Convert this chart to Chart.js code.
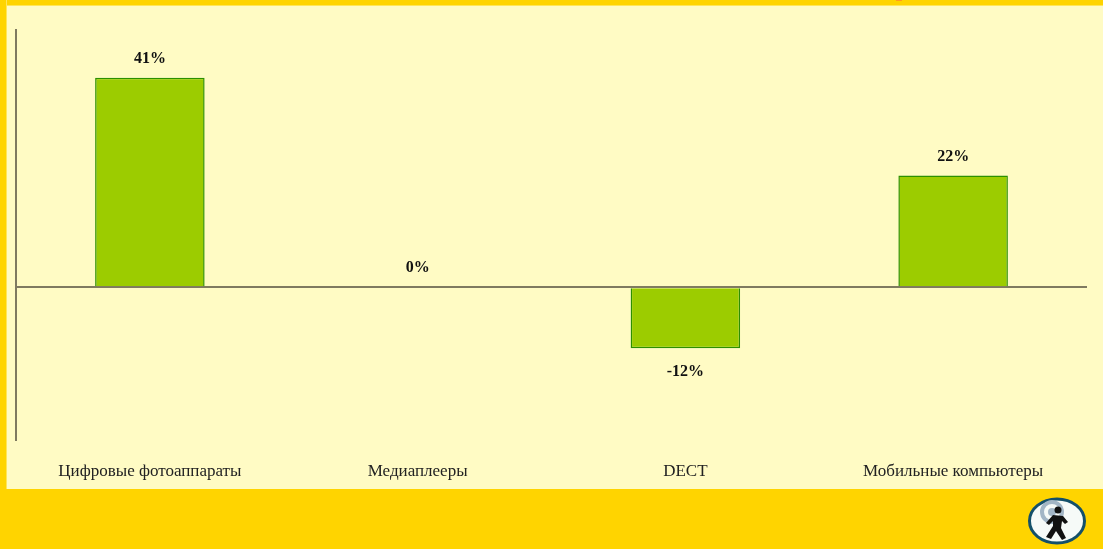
<!DOCTYPE html>
<html lang="ru">
<head>
<meta charset="utf-8">
<title>Chart</title>
<script src="https://cdn.jsdelivr.net/npm/chart.js@4"></script>
<style>
	html, body { margin: 0; padding: 0; width: 1103px; height: 549px; overflow: hidden; background: #fffbc4; }
	.band { position: absolute; background: #ffd400; }
	#top { left: 0; top: 0; width: 1103px; height: 5px; border-bottom: 1px solid #ffe65a; }
	#left { left: 0; top: 0; width: 6px; height: 489px; border-right: 1px solid #ffe65a; }
	#bottom { left: 0; top: 489px; width: 1103px; height: 60px; }
	#speck { position: absolute; left: 896px; top: 0; width: 6px; height: 1px; background: #ff9a20; }
	#wrap { position: absolute; left: 0; top: 0; width: 1103px; height: 549px; }
	#logo { position: absolute; left: 1026px; top: 496px; }
</style>
</head>
<body>
<div class="band" id="top"></div>
<div class="band" id="left"></div>
<div class="band" id="bottom"></div>
<div id="speck"></div>
<div id="wrap"><canvas id="chart"></canvas></div>
<svg id="logo" width="62" height="50" viewBox="0 0 62 50">
	<ellipse cx="31" cy="25" rx="27.5" ry="22" fill="#f6faf8" stroke="#14506a" stroke-width="3"/>
	<circle cx="26" cy="16" r="10" fill="none" stroke="#a3b6c6" stroke-width="4"/>
	<circle cx="26" cy="16" r="4" fill="#a3b6c6"/>
	<circle cx="32" cy="14" r="3.5" fill="#111"/>
	<path d="M27 19 L37 20 L42 26 L39 28 L36 25 L35 32 L40 42 L36 44 L30 35 L25 43 L20 41 L27 30 L27 25 L23 29 L20 27 Z" fill="#111"/>
</svg>
<script>
	const categories = ['Цифровые фотоаппараты', 'Медиаплееры', 'DECT', 'Мобильные компьютеры'];
	const values = [40.9, 0, -11.9, 21.8];
	const valueLabels = ['41%', '0%', '-12%', '22%'];
	const yTicks = [-20, -10, 0, 10, 20, 30, 40, 50];

	// подписи значений над/под столбцами
	const valueLabelPlugin = {
		id: 'valueLabels',
		afterDatasetsDraw(chart) {
			const ctx = chart.ctx;
			const meta = chart.getDatasetMeta(0);
			ctx.save();
			ctx.font = 'bold 16px "Liberation Serif"';
			ctx.fillStyle = '#111';
			ctx.textAlign = 'center';
			ctx.textBaseline = 'middle';
			meta.data.forEach(function(bar, i) {
				const offset = values[i] < 0 ? 24 : -19;
				ctx.fillText(valueLabels[i], bar.x, bar.y + offset);
			});
			ctx.restore();
		}
	};

	new Chart(document.getElementById('chart'), {
		type: 'bar',
		data: {
			labels: categories,
			datasets: [{
				data: values,
				backgroundColor: '#9ccc00',
				borderColor: '#2c9000',
				borderWidth: 1.5,
				barPercentage: 0.409,
				categoryPercentage: 1
			}]
		},
		options: {
			responsive: true,
			maintainAspectRatio: false,
			animation: false,
			layout: { padding: { left: 16, right: 16, top: 30, bottom: 0 } },
			plugins: { legend: { display: false }, tooltip: { enabled: false } },
			scales: {
				x: {
					grid: { display: false },
					border: { display: false },
					ticks: {
						color: '#222',
						font: { family: '"Liberation Serif"', size: 17 },
						padding: 13,
						maxRotation: 0
					},
					afterFit(scale) { scale.height = 109; }
				},
				y: {
					min: -29.8,
					max: 50.2,
					border: { display: true, color: '#7f7a60', width: 2 },
					grid: {
						drawTicks: false,
						lineWidth: 2,
						color: function(c) { return c.tick.value === 0 ? '#7f7a60' : 'transparent'; }
					},
					ticks: { display: false },
					afterBuildTicks(scale) {
						scale.ticks = yTicks.map(function(v) { return { value: v }; });
					}
				}
			}
		},
		plugins: [valueLabelPlugin]
	});
</script>
</body>
</html>
